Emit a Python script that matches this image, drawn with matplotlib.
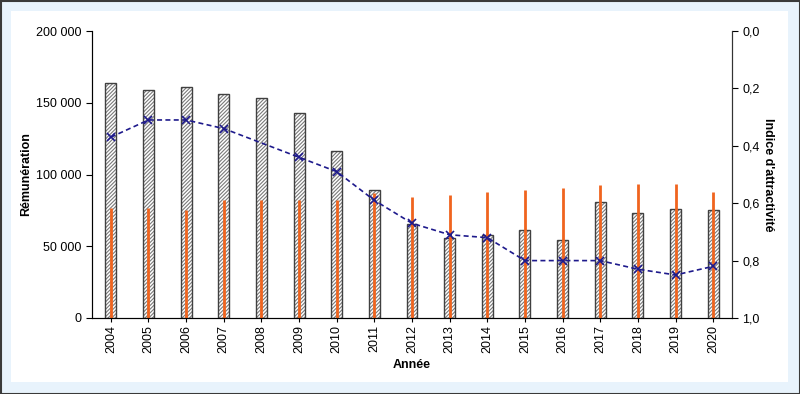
import numpy as np
from matplotlib import pyplot as plt
from matplotlib.patches import Rectangle
from matplotlib.ticker import FuncFormatter

plt.rcParams['font.family'] = ['Liberation Sans', 'DejaVu Sans']
plt.rcParams['hatch.linewidth'] = 0.8

# Data
years = ['2004', '2005', '2006', '2007', '2008', '2009', '2010', '2011', '2012',
         '2013', '2014', '2015', '2016', '2017', '2018', '2019', '2020']
remuneration = [164000, 159000, 161000, 156000, 153500, 143000, 116500, 89000, 65500,
                56000, 57500, 61000, 54500, 80500, 73500, 76000, 75000]
remuneration_orange = [76500, 77000, 75500, 82000, 82500, 82000, 82500, 87000, 84500,
                       85500, 88000, 89000, 90500, 92500, 93500, 93500, 88000]
indice = [0.37, 0.31, 0.31, 0.34, np.nan, 0.44, 0.49, 0.59, 0.67,
          0.71, 0.72, 0.80, 0.80, 0.80, 0.83, 0.85, 0.82]

W, H = 800, 394
fig = plt.figure(figsize=(W / 100, H / 100), dpi=100)
fig.patch.set_facecolor('#E8F3FC')

# white panel and outer frame
fig.patches.append(Rectangle((11 / W, 12 / H), 777 / W, 371 / H, transform=fig.transFigure,
                             facecolor='white', edgecolor='none', zorder=-2))
fig.patches.append(Rectangle((0.5 / W, 0.5 / H), 799 / W, 393 / H, transform=fig.transFigure,
                             facecolor='none', edgecolor='#3a3a3a', lw=1.5, zorder=-1))

ax = fig.add_axes([92 / W, (H - 318) / H, 640 / W, 287 / H])
ax.set_facecolor('none')
x = np.arange(len(years))

ax.bar(x, remuneration, width=0.29, facecolor='white', edgecolor='#7a7a7a',
       hatch='/////////', lw=0, zorder=1)
ax.bar(x, remuneration, width=0.29, facecolor='none', edgecolor='#404040', lw=1.0, zorder=2)
ax.vlines(x, 0, remuneration_orange, color='#F0641E', lw=2, zorder=3)

ax.set_xlim(-0.5, len(years) - 0.5)
ax.set_ylim(0, 200000)
ax.set_yticks([0, 50000, 100000, 150000, 200000])
ax.yaxis.set_major_formatter(FuncFormatter(lambda v, p: f'{int(v):,}'.replace(',', ' ')))
ax.set_xticks(x)
ax.set_xticklabels(years, rotation=90)
ax.tick_params(axis='x', direction='inout', length=6, labelsize=9, pad=2)
ax.tick_params(axis='y', direction='out', length=4, labelsize=9)
ax.spines['top'].set_visible(False)
for s in ['left', 'bottom', 'right']:
    ax.spines[s].set_color('#333333')
ax.set_xlabel('Année', fontweight='bold', fontsize=9, labelpad=4)
ax.set_ylabel('Rémunération', fontweight='bold', fontsize=9, labelpad=3)

ax2 = ax.twinx()
ax2.set_ylim(1.0, 0.0)
ax2.set_yticks([0, 0.2, 0.4, 0.6, 0.8, 1.0])
ax2.yaxis.set_major_formatter(FuncFormatter(lambda v, p: f'{v:.1f}'.replace('.', ',')))
ax2.tick_params(axis='y', direction='out', length=4, labelsize=9)
ax2.spines['top'].set_visible(False)
ax2.spines['right'].set_color('#333333')
ind = np.array(indice)
ok = ~np.isnan(ind)
ax2.plot(x[ok], ind[ok], linestyle=(0, (3, 2)), color='#1E1A8C', lw=1.2,
         marker='x', markersize=6, markeredgewidth=1.2, zorder=4)
ax2.set_ylabel("Indice d'attractivité", fontweight='bold', fontsize=9,
               rotation=270, labelpad=10)

plt.savefig('out.png', dpi=100, facecolor=fig.get_facecolor())
